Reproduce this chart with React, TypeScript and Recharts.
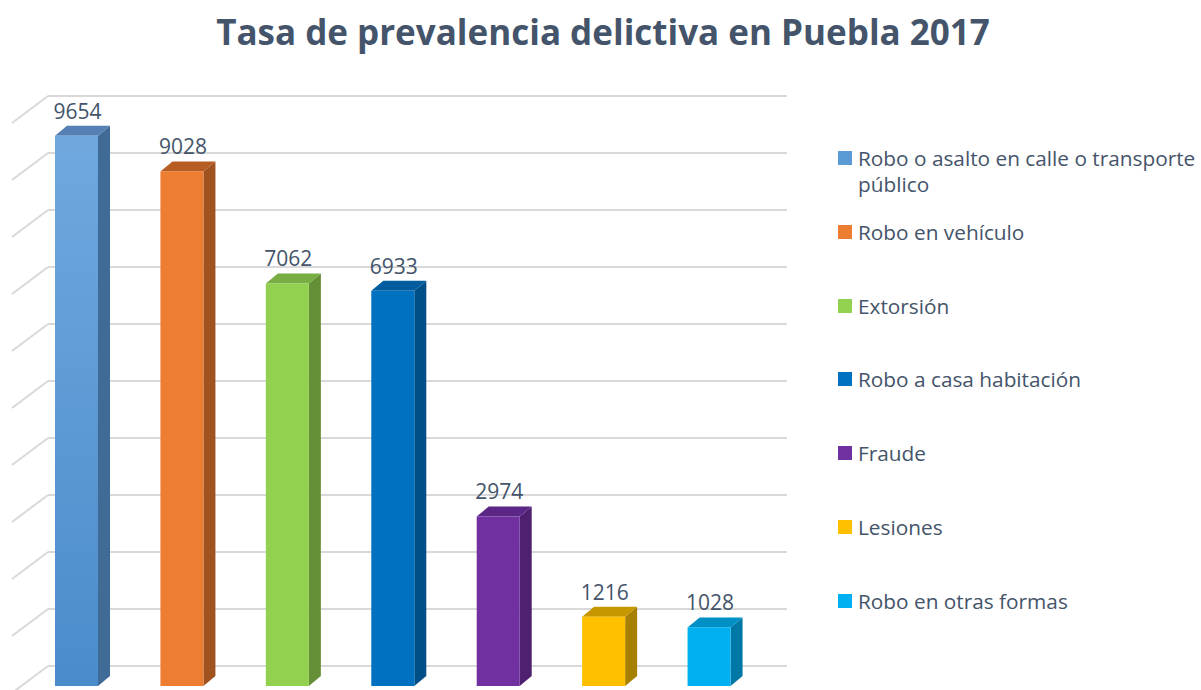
import React from 'react';
import { BarChart, Bar, XAxis, YAxis, CartesianGrid, LabelList } from 'recharts';

const categories = [
	'Robo o asalto en calle o transporte público',
	'Robo en vehículo',
	'Extorsión',
	'Robo a casa habitación',
	'Fraude',
	'Lesiones',
	'Robo en otras formas',
];
const values = [9654, 9028, 7062, 6933, 2974, 1216, 1028];
const yTicks = [0, 1000, 2000, 3000, 4000, 5000, 6000, 7000, 8000, 9000, 10000];

const frontColors = ['url(#bar1grad)', '#ED7D31', '#92D050', '#0070C0', '#7030A0', '#FFC000', '#00B0F0'];
const legendColors = ['#5B9BD5', '#ED7D31', '#92D050', '#0070C0', '#7030A0', '#FFC000', '#00B0F0'];
const sideColors = ['#3F6B96', '#A0521F', '#648F36', '#004F86', '#4E2170', '#A88000', '#0078A6'];
const topColors = ['#5680B3', '#B75D24', '#77AD42', '#005C9E', '#5B2685', '#C79700', '#0090C6'];

const data = categories.map((name, i) => ({ name, value: values[i] }));

const DX = 12;
const DY = 10;
const TEXT = '#44546A';
const FONT = '"Open Sans", sans-serif';

const Bar3D = (props: any) => {
	const { x, y, width, height, index } = props;
	const r = x + width;
	const b = y + height;
	return (
		<g>
			<polygon
				points={`${r},${y} ${r + DX},${y - DY} ${r + DX},${b - DY} ${r},${b}`}
				fill={sideColors[index]}
			/>
			<polygon
				points={`${x},${y} ${x + DX},${y - DY} ${r + DX},${y - DY} ${r},${y}`}
				fill={topColors[index]}
			/>
			<rect x={x} y={y} width={width} height={height} fill={frontColors[index]} />
		</g>
	);
};

const GridLine = (props: any) => {
	const { x1, x2, y1 } = props;
	const by = y1 - 20;
	return (
		<g key={props.key}>
			<line x1={x1 + 24} y1={by} x2={x2 + 25} y2={by} stroke='#D9D9D9' strokeWidth={2} />
			<line x1={x1 + 24} y1={by} x2={x1 - 12} y2={by + 27} stroke='#D9D9D9' strokeWidth={2} />
		</g>
	);
};

const ValueLabel = (props: any) => {
	const { x, y, width, value } = props;
	return (
		<text
			x={x + width / 2 + 1}
			y={y - 17}
			textAnchor='middle'
			fontFamily={FONT}
			fontSize={21}
			fill={TEXT}
		>
			{value}
		</text>
	);
};

const LegendBox = () => (
	<div style={{ position: 'absolute', left: 838, top: 145, width: 365, height: 500 }}>
		{categories.map((name, i) => (
			<div
				key={name}
				style={{
					position: 'absolute',
					left: 0,
					top: i * 73.8,
					display: 'flex',
					alignItems: 'flex-start',
					fontFamily: FONT,
					fontSize: 20.8,
					lineHeight: '26px',
					color: TEXT,
				}}
			>
				<span
					style={{
						display: 'inline-block',
						width: 14,
						height: 14,
						marginTop: 6,
						marginRight: 6,
						background: legendColors[i],
						flex: 'none',
					}}
				/>
				<span style={{ width: 345 }}>{name}</span>
			</div>
		))}
	</div>
);

export default function App() {
	return (
		<div style={{ position: 'absolute', left: 0, top: 0, width: 1201, height: 690, background: '#fff', overflow: 'hidden' }}>
			<div
				style={{
					position: 'absolute',
					left: 0,
					width: 1206,
					top: 8,
					textAlign: 'center',
					fontFamily: FONT,
					fontWeight: 700,
					fontSize: 35,
					color: TEXT,
				}}
			>
				Tasa de prevalencia delictiva en Puebla 2017
			</div>
			<BarChart
				width={1201}
				height={690}
				data={data}
				margin={{ top: 116, right: 439, left: 24, bottom: 4 }}
				barCategoryGap={0}
			>
				<defs>
					<linearGradient id='bar1grad' x1='0' y1='0' x2='0' y2='1'>
						<stop offset='0%' stopColor='#70A8DE' />
						<stop offset='100%' stopColor='#4A8CCB' />
					</linearGradient>
				</defs>
				<CartesianGrid vertical={false} horizontal={GridLine} />
				<XAxis dataKey='name' hide />
				<YAxis hide domain={[0, 10000]} ticks={yTicks} />
				<Bar dataKey='value' barSize={43} shape={Bar3D} isAnimationActive={false}>
					<LabelList dataKey='value' content={ValueLabel} />
				</Bar>
			</BarChart>
			<LegendBox />
		</div>
	);
}
